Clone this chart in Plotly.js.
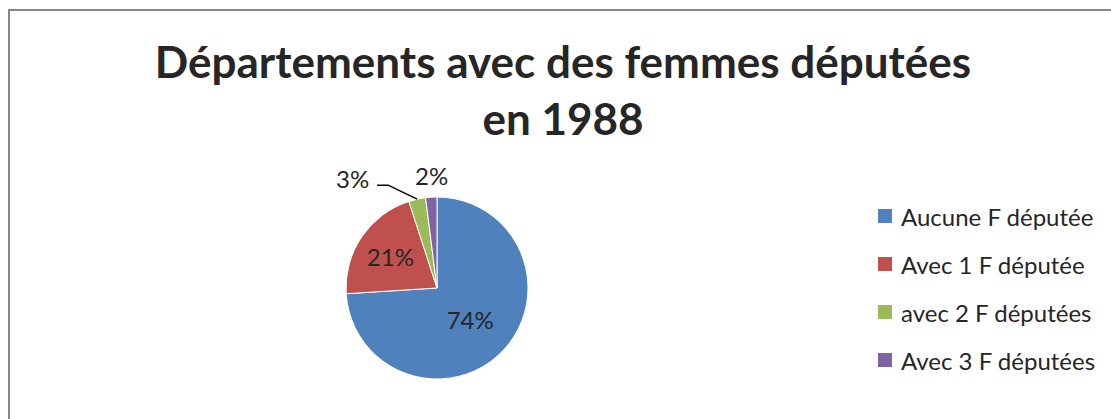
<!DOCTYPE html>
<html>
<head>
<meta charset="utf-8">
<script src="https://cdn.plot.ly/plotly-3.0.1.min.js"></script>
<style>
  html, body { margin: 0; padding: 0; background: #fff; }
  #wrap { position: relative; width: 1111px; height: 419px; overflow: hidden; }
  #frame { position: absolute; left: 8px; top: 9px; width: 1120px; height: 440px; border: 2px solid #878787; box-sizing: border-box; pointer-events: none; z-index: 5; }
  #chart { position: absolute; left: 0; top: 0; width: 1111px; height: 419px; }
</style>
</head>
<body>
<div id="wrap">
  <div id="chart"></div>
  <div id="frame"></div>
</div>
<script>
const categories = ["Aucune F députée", "Avec 1 F députée", "avec 2 F députées", "Avec 3 F députées"];
const values = [74, 21, 3, 2];
const colors = ["#4F81BD", "#C0504D", "#9BBB59", "#8064A2"];
const textPositions = ["inside", "inside", "none", "none"];
const titleText = "<b>Départements avec des femmes députées<br>en 1988</b>";

const W = 1111, H = 419;
const FONT = "Lato, 'Open Sans', sans-serif";
const TXT = "#262626";

// pie placement (pixels -> paper)
const cx = 437, cy = 288, r = 91;
const px = x => x / W, py = y => 1 - y / H;

const trace = {
  type: "pie",
  labels: categories,
  values: values,
  sort: false,
  direction: "clockwise",
  rotation: 0,
  marker: { colors: colors, line: { color: "#ffffff", width: 1 } },
  textinfo: "percent",
  textposition: textPositions,
  textfont: { family: FONT, size: 24, color: TXT },
  insidetextorientation: "horizontal",
  showlegend: false,
  hoverinfo: "label+percent",
  domain: { x: [px(cx - r), px(cx + r)], y: [py(cy + r), py(cy - r)] }
};

const shapes = [], annotations = [];

// outside labels for small slices, placed from the slice angles
const total = values.reduce((a, b) => a + b, 0);
let cum = 0;
const mids = values.map(v => { const m = (cum + v / 2) / total; cum += v; return m * 2 * Math.PI; });
// style offsets for the small-slice labels: [dx, dy, leader]
const outsideStyle = { 2: { dx: -65, dy: -21, leader: true }, 3: { dx: 0, dy: -22, leader: false } };
Object.keys(outsideStyle).forEach(k => {
  const i = +k, s = outsideStyle[k];
  const ex = cx + r * Math.sin(mids[i]), ey = cy - r * Math.cos(mids[i]);
  const pct = Math.round(values[i] / total * 100) + "%";
  annotations.push({
    xref: "paper", yref: "paper", x: px(ex + s.dx), y: py(ey + s.dy),
    xanchor: "center", yanchor: "middle", showarrow: false,
    text: pct, font: { family: FONT, size: 24, color: TXT }
  });
  if (s.leader) {
    shapes.push({
      type: "path", xref: "paper", yref: "paper",
      path: `M ${px(ex)} ${py(ey)} L ${px(ex - 29)} ${py(ey - 14)} L ${px(ex - 40)} ${py(ey - 14)}`,
      line: { color: "#000000", width: 1.5 }
    });
  }
});

// manual legend, built from categories/colors
const legX = 878, legTextX = 899, legY0 = 216, legStep = 48, sq = 14;
categories.forEach((c, i) => {
  const y = legY0 + i * legStep;
  shapes.push({
    type: "rect", xref: "paper", yref: "paper",
    x0: px(legX), x1: px(legX + sq),
    y0: py(y + sq / 2), y1: py(y - sq / 2),
    fillcolor: colors[i], line: { width: 0 }
  });
  annotations.push({
    xref: "paper", yref: "paper", x: px(legTextX), y: py(y),
    xanchor: "left", yanchor: "middle", showarrow: false,
    text: c, font: { family: FONT, size: 24, color: TXT }
  });
});

const layout = {
  width: W, height: H,
  margin: { l: 0, r: 0, t: 0, b: 0 },
  paper_bgcolor: "#ffffff",
  title: {
    text: titleText,
    font: { family: FONT, size: 44, color: TXT },
    x: px(563), xanchor: "center",
    y: py(78), yanchor: "top", yref: "container"
  },
  shapes: shapes,
  annotations: annotations
};

Plotly.newPlot("chart", [trace], layout, { displayModeBar: false, staticPlot: true });
</script>
</body>
</html>
